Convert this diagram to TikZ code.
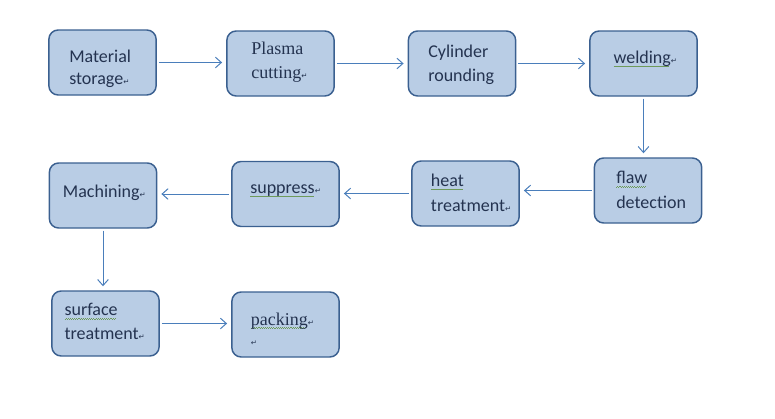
\documentclass[tikz,border=0pt]{standalone}
\usepackage{fontspec}
\setmainfont{Carlito}
\newfontfamily\serifface{Liberation Serif}
\newfontfamily\markface{DejaVu Sans}
\usepackage{xcolor}
\usetikzlibrary{arrows.meta}

\definecolor{boxfill}{HTML}{B9CDE5}
\definecolor{boxline}{HTML}{3B6090}
\definecolor{flowline}{HTML}{4A7EBB}
\definecolor{boxtext}{HTML}{243350}
\definecolor{wavygreen}{HTML}{6E9A5A}

% paragraph mark and spell-check wave
\newcommand{\ret}{{\markface\fontsize{5.5}{6}\selectfont ↵}}
\newsavebox{\squigbox}
\newcommand{\squig}[1]{\sbox{\squigbox}{#1}\leavevmode\rlap{\textcolor{wavygreen}{\raisebox{-2.6pt}{\hbox to \wd\squigbox{\leaders\hbox to 1.6pt{\rule{0.8pt}{0.45pt}\rule[0.45pt]{0.8pt}{0.45pt}}\hfill}}}}\usebox{\squigbox}}

\begin{document}
\begin{tikzpicture}[x=0.75pt, y=-0.75pt,
    >={Straight Barb[length=4.5pt, width=8pt]},
    stagebox/.style={draw=boxline, line width=1.1pt, fill=boxfill, rounded corners=7pt,
        minimum width=80.5pt, minimum height=48.75pt},
    stagetext/.style={anchor=base west, inner sep=0pt, align=left, text=boxtext,
        font=\fontsize{13.5}{18.3}\selectfont},
    serif/.style={font=\serifface\fontsize{13.5}{18}\selectfont},
    flow/.style={->, draw=flowline, line width=0.75pt, shorten <=1.5pt, shorten >=3pt}]
  \useasboundingbox (0,0) rectangle (775,418);
  % boxes
  \node[stagebox] (mat) at (102.5, 62.5) {};
  \node[stagebox] (plasma) at (280.5, 63.5) {};
  \node[stagebox] (cyl) at (462, 63.5) {};
  \node[stagebox] (weld) at (643.5, 63.5) {};
  \node[stagebox] (flaw) at (648, 190.5) {};
  \node[stagebox] (heat) at (465.5, 193.5) {};
  \node[stagebox] (supp) at (285.5, 194) {};
  \node[stagebox] (mach) at (103, 195.5) {};
  \node[stagebox] (surf) at (105.5, 323.5) {};
  \node[stagebox] (pack) at (285.5, 324.5) {};
  % texts (base = last line)
  \node[stagetext, font=\fontsize{13.5}{15.8}\selectfont] (mat-t) at (69, 84) {Material\\storage\ret};
  \node[stagetext, serif] (plasma-t) at (251, 78.3) {\serifface Plasma\\\serifface cutting\ret};
  \node[stagetext] (cyl-t) at (428, 81.7) {Cylinder\\rounding};
  \node[stagetext] (weld-t) at (613.3, 63.3) {\squig{welding}\ret};
  \node[stagetext] (flaw-t) at (616, 208.3) {\squig{flaw}\\detection};
  \node[stagetext] (heat-t) at (430.7, 211) {\squig{heat}\\treatment\ret};
  \node[stagetext] (supp-t) at (250, 193.3) {\squig{suppress}\ret};
  \node[stagetext] (mach-t) at (62.7, 197.7) {Machining\ret};
  \node[stagetext, font=\fontsize{13.5}{17.5}\selectfont] (surf-t) at (64.3, 339.3) {\squig{surface}\\treatment\ret};
  \node[stagetext, serif, font=\serifface\fontsize{13.5}{15}\selectfont] (pack-t) at (250.7, 345) {\serifface\squig{packing}\ret\\\ret};
  % flow
  \draw[flow] (mat.east) -- (plasma.west |- mat.east);
  \draw[flow] (plasma.east) -- (cyl.west);
  \draw[flow] (cyl.east) -- (weld.west);
  \draw[flow] (weld.south) -- (flaw.north -| weld.south);
  \draw[flow] (flaw.west) -- (heat.east |- flaw.west);
  \draw[flow] (heat.west) -- (supp.east |- heat.west);
  \draw[flow] (supp.west) -- (mach.east |- supp.west);
  \draw[flow] (mach.south) -- (surf.north -| mach.south);
  \draw[flow] (surf.east) -- (pack.west |- surf.east);
\end{tikzpicture}
\end{document}
